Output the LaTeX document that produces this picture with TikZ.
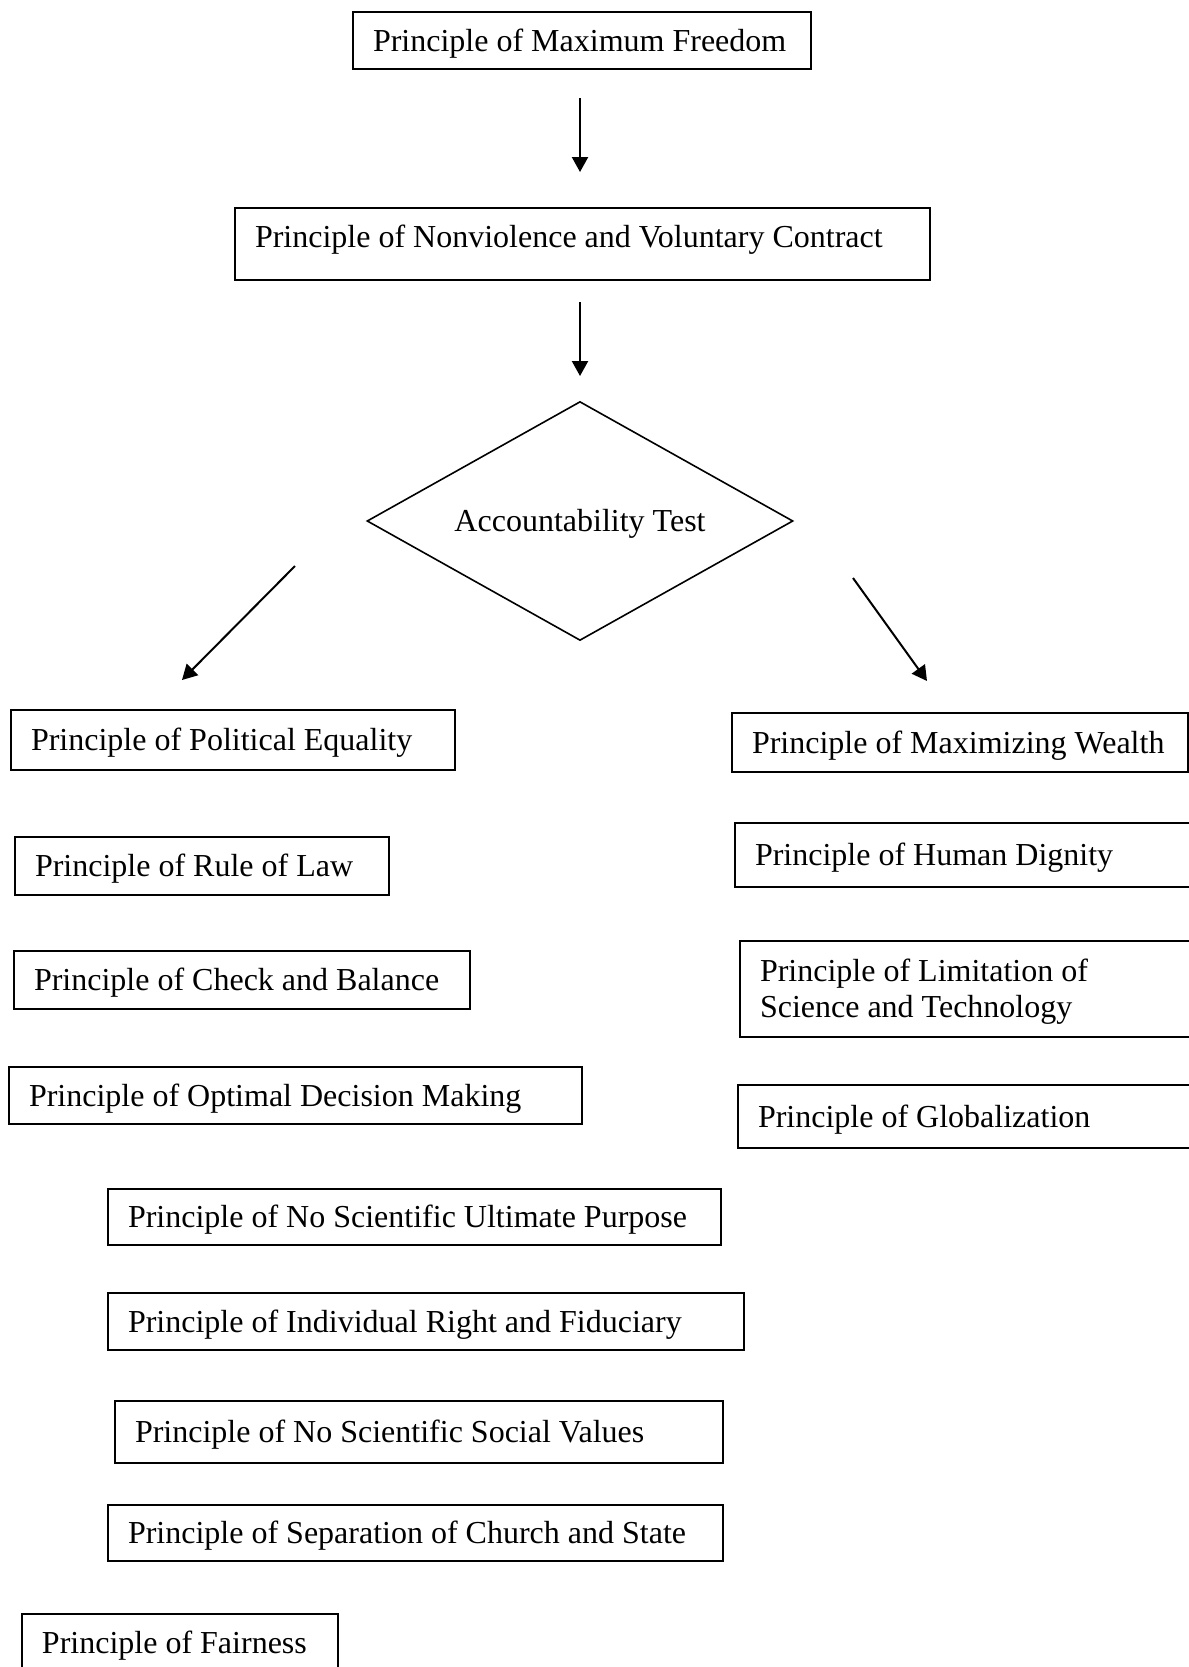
\documentclass[tikz,border=0pt]{standalone}
\usepackage{fontspec}
\setmainfont{Liberation Serif}
\usepackage{tikz}
\usetikzlibrary{positioning, arrows.meta}
\usetikzlibrary{shapes.geometric}

\begin{document}
\begin{tikzpicture}[x=0.375pt, y=-0.375pt,
    pbox/.style={draw=black, line width=0.75pt, anchor=north west, align=flush left, inner xsep=7.5pt, inner ysep=0pt, text depth=0.05em, font=\fontsize{12pt}{13.8pt}\selectfont},
    arr/.style={line width=0.75pt, -{Triangle[length=5.6pt, width=6pt]}}]
            \useasboundingbox (0, 0) rectangle (1188, 1667);

            % top of the chart
            \node[pbox, text width=156.75pt, minimum height=21.4pt] (freedom) at (352, 11) {Principle of Maximum Freedom};
            \node[pbox, text width=245.6pt, minimum height=27pt, text depth=0.6em] (nonviol) at (234, 207) {Principle of Nonviolence and Voluntary Contract};
            \node[diamond, draw=black, line width=0.6pt, aspect=1.78, inner sep=0pt, minimum width=159.75pt, minimum height=89.6pt, text depth=0.05em, font=\fontsize{12pt}{13.8pt}\selectfont] (test) at (580, 521) {Accountability Test};

            % left column
            \node[pbox, text width=151.5pt, minimum height=22.5pt] (equal) at (10, 709) {Principle of Political Equality};
            \node[pbox, text width=125.25pt, minimum height=21.75pt] (law) at (14, 836) {Principle of Rule of Law};
            \node[pbox, text width=156pt, minimum height=21.75pt] (check) at (13, 950) {Principle of Check and Balance};
            \node[pbox, text width=199.9pt, minimum height=21.4pt] (optimal) at (8, 1066) {Principle of Optimal Decision Making};
            \node[pbox, text width=214.9pt, minimum height=21pt] (purpose) at (107, 1188) {Principle of No Scientific Ultimate Purpose};
            \node[pbox, text width=223.5pt, minimum height=21.4pt] (fiduc) at (107, 1292) {Principle of Individual Right and Fiduciary};
            \node[pbox, text width=213pt, minimum height=23.25pt] (values) at (114, 1400) {Principle of No Scientific Social Values};
            \node[pbox, text width=215.6pt, minimum height=21pt] (church) at (107, 1504) {Principle of Separation of Church and State};
            \node[pbox, text width=103.5pt, minimum height=21.4pt] (fair) at (21, 1613) {Principle of Fairness};

            % right column
            \node[pbox, text width=156pt, minimum height=22.1pt] (wealth) at (731, 712) {Principle of Maximizing Wealth};
            \node[pbox, text width=163pt, minimum height=24pt] (dignity) at (734, 822) {Principle of Human Dignity};
            \node[pbox, text width=163pt, minimum height=36pt, text depth=14.4pt] (limit) at (739, 940) {Principle of Limitation of\\Science and Technology};
            \node[pbox, text width=163pt, minimum height=23.6pt] (global) at (737, 1084) {Principle of Globalization};

            % loose arrows
            \coordinate (a1) at (580, 98);
            \coordinate (b1) at (580, 172);
            \coordinate (a2) at (580, 302);
            \coordinate (b2) at (580, 376);
            \coordinate (a3) at (295, 566);
            \coordinate (b3) at (182, 680);
            \coordinate (a4) at (853, 578);
            \coordinate (b4) at (927, 681);

            \draw[arr] (a1) -- (b1);
            \draw[arr] (a2) -- (b2);
            \draw[arr] (a3) -- (b3);
            \draw[arr] (a4) -- (b4);
        \end{tikzpicture}
\end{document}
